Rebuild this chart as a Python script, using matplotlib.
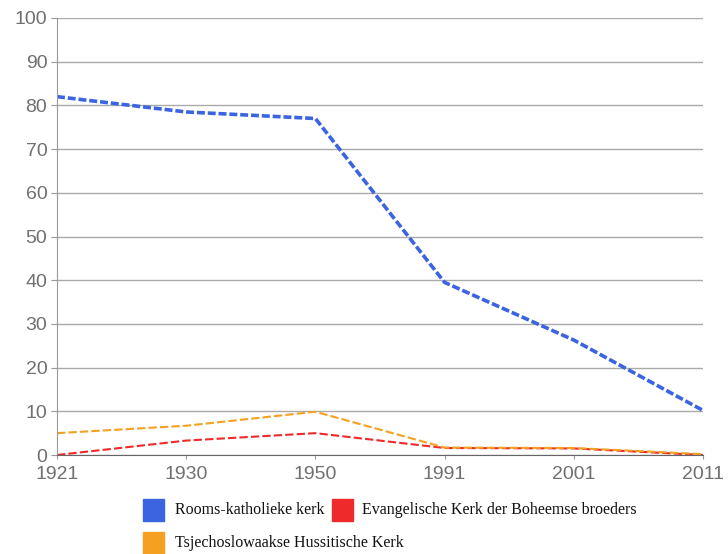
import matplotlib.pyplot as plt
from matplotlib.patches import Rectangle

# Data
years = ['1921', '1930', '1950', '1991', '2001', '2011']
katholiek = [82, 78.5, 77, 39.5, 26.3, 10.2]
evangelisch = [0, 3.3, 5, 1.6, 1.5, 0]
hussitisch = [5, 6.7, 9.9, 1.7, 1.6, 0.2]

series_names = ['Rooms-katholieke kerk',
                'Evangelische Kerk der Boheemse broeders',
                'Tsjechoslowaakse Hussitische Kerk']
colors = ['#3a64e0', '#ee2a2a', '#f5a020']

W, H = 728, 554
fig = plt.figure(figsize=(W / 100, H / 100), dpi=100)
ax = fig.add_axes([57 / W, 1 - 455 / H, 646 / W, 437 / H])

x = range(len(years))
ax.plot(x, katholiek, color=colors[0], lw=2.6, ls=(0, (2.2, 0.8)))
ax.plot(x, evangelisch, color=colors[1], lw=1.5, ls=(0, (4, 1.5)))
ax.plot(x, hussitisch, color=colors[2], lw=1.5, ls=(0, (4, 1.5)))

ax.set_xlim(0, len(years) - 1)
ax.set_ylim(0, 100)
ax.set_yticks(range(0, 101, 10))
ax.set_xticks(list(x))
ax.set_xticklabels(years)
ax.yaxis.grid(True, color='#aaaaaa', lw=1)
ax.set_axisbelow(True)
for s in ['top', 'right']:
    ax.spines[s].set_visible(False)
ax.spines['left'].set_color('#999999')
ax.spines['bottom'].set_color('#666666')
ax.tick_params(axis='y', colors='#707070', labelsize=14, length=4, color='#999999', pad=3)
ax.tick_params(axis='x', colors='#707070', labelsize=14, length=3, color='#999999', pad=5)
for lab in ax.get_xticklabels() + ax.get_yticklabels():
    lab.set_fontfamily('Liberation Sans')

# Legend, drawn by hand so the second entry sits right after the first text
def legend_entry(px, py, color, text, tx):
    fig.patches.append(Rectangle((px / W, 1 - (py + 11) / H), 21 / W, 22 / H,
                                 color=color, transform=fig.transFigure, figure=fig))
    fig.text(tx / W, 1 - py / H, text, family='Liberation Serif', size=11.5,
             va='center', ha='left', color='#111111')

legend_entry(143, 510, colors[0], series_names[0], 175)
legend_entry(332, 510, colors[1], series_names[1], 362)
legend_entry(143, 543, colors[2], series_names[2], 175)

fig.savefig('out.png', dpi=100)
